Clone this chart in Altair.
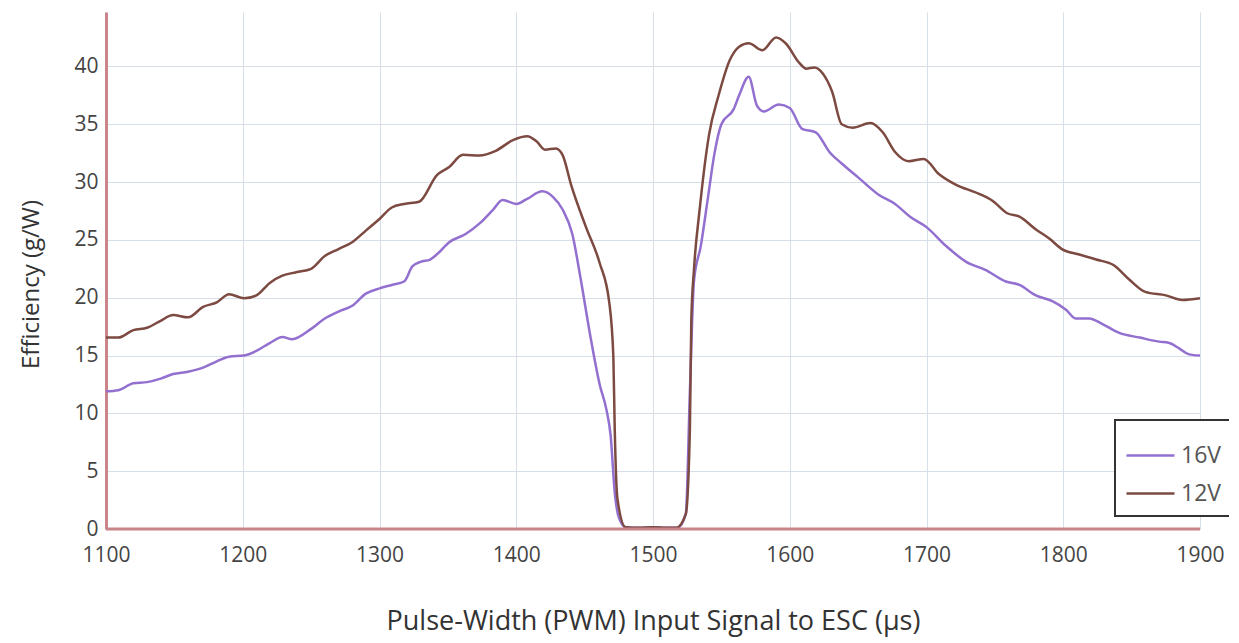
import altair as alt
import pandas as pd

pwm_16v = [1100, 1109, 1120, 1130, 1140, 1149, 1160, 1171, 1181, 1190, 1201, 1210, 1220, 1229, 1236, 1250,
           1260, 1270, 1280, 1290, 1300, 1309, 1318, 1324, 1330, 1337, 1342, 1351, 1363, 1373, 1383, 1390,
           1400, 1408, 1419, 1427, 1434, 1441, 1447, 1454, 1461, 1466, 1469, 1472, 1475, 1480, 1490, 1500,
           1510, 1518, 1524, 1527, 1530, 1535, 1540, 1545, 1550, 1559, 1563, 1570, 1576, 1581, 1592, 1600,
           1609, 1619, 1629, 1638, 1650, 1665, 1677, 1688, 1700, 1714, 1729, 1743, 1758, 1768, 1780, 1792,
           1802, 1809, 1819, 1829, 1841, 1856, 1870, 1877, 1885, 1892, 1900]
eff_16v = [11.9, 12.0, 12.6, 12.7, 13.0, 13.4, 13.6, 13.95, 14.5, 14.9, 15.0, 15.4, 16.1, 16.6, 16.4, 17.3,
           18.2, 18.8, 19.3, 20.35, 20.8, 21.1, 21.4, 22.7, 23.1, 23.3, 23.75, 24.8, 25.5, 26.4, 27.6, 28.45,
           28.1, 28.55, 29.2, 28.7, 27.6, 25.5, 21.7, 16.8, 12.5, 10.3, 8.1, 3.2, 1.0, 0.15, 0.1, 0.15,
           0.1, 0.1, 1.3, 12.0, 21.5, 24.5, 28.5, 32.5, 35.0, 36.3, 37.5, 39.1, 36.6, 36.1, 36.7, 36.4,
           34.6, 34.3, 32.6, 31.6, 30.4, 28.9, 28.1, 27.0, 26.1, 24.5, 23.1, 22.4, 21.4, 21.1, 20.2, 19.7,
           18.96, 18.2, 18.2, 17.7, 16.95, 16.55, 16.2, 16.1, 15.6, 15.1, 15.0]

pwm_12v = [1100, 1109, 1120, 1130, 1140, 1149, 1160, 1171, 1181, 1190, 1201, 1210, 1220, 1229, 1239, 1250,
           1260, 1270, 1280, 1290, 1300, 1309, 1318, 1329, 1342, 1351, 1361, 1373, 1385, 1398, 1408, 1415,
           1421, 1429, 1434, 1440, 1451, 1461, 1468, 1471, 1472, 1474, 1480, 1490, 1500, 1510, 1517, 1524,
           1527, 1528, 1530, 1534, 1541, 1548, 1556, 1563, 1570, 1580, 1590, 1597, 1607, 1612, 1618, 1624,
           1631, 1638, 1646, 1659, 1668, 1677, 1687, 1698, 1709, 1721, 1738, 1748, 1759, 1768, 1780, 1790,
           1799, 1811, 1824, 1837, 1848, 1860, 1875, 1887, 1900]
eff_12v = [16.55, 16.55, 17.2, 17.4, 18.0, 18.5, 18.3, 19.2, 19.6, 20.3, 19.95, 20.2, 21.3, 21.9, 22.2, 22.5,
           23.6, 24.2, 24.8, 25.8, 26.8, 27.8, 28.1, 28.3, 30.6, 31.3, 32.35, 32.3, 32.7, 33.65, 33.96, 33.5,
           32.8, 32.9, 32.3, 29.8, 26.1, 23.0, 19.6, 14.9, 8.75, 2.6, 0.15, 0.1, 0.15, 0.1, 0.1, 1.3,
           8.75, 18.0, 22.5, 27.5, 34.1, 37.5, 40.5, 41.7, 42.0, 41.4, 42.5, 42.0, 40.3, 39.8, 39.9, 39.4,
           37.8, 35.0, 34.7, 35.1, 34.3, 32.6, 31.8, 32.0, 30.7, 29.8, 29.0, 28.4, 27.3, 27.0, 25.9, 25.1,
           24.2, 23.75, 23.3, 22.8, 21.6, 20.5, 20.2, 19.8, 19.95]

series_names = ["16V", "12V"]
series_colors = ["#9370d0", "#7d4a42"]

df = pd.concat([
    pd.DataFrame({"pwm": pwm_16v, "eff": eff_16v, "series": "16V"}),
    pd.DataFrame({"pwm": pwm_12v, "eff": eff_12v, "series": "12V"}),
])

FONT = "Open Sans"

chart = alt.Chart(df).mark_line(interpolate="monotone", strokeWidth=2.5).encode(
    x=alt.X("pwm:Q",
            scale=alt.Scale(domain=[1100, 1900], nice=False, zero=False),
            axis=alt.Axis(title="Pulse-Width (PWM) Input Signal to ESC (µs)",
                          values=list(range(1100, 1901, 100)), format="d",
                          ticks=False, labelPadding=15, titlePadding=43,
                          labelFlush=False, labelOverlap=False,
                          domain=False, grid=True, titleFontSize=27)),
    y=alt.Y("eff:Q",
            scale=alt.Scale(domain=[0, 44.7], nice=False),
            axis=alt.Axis(title="Efficiency (g/W)", values=list(range(0, 41, 5)),
                          ticks=False, labelPadding=8, titlePadding=30, titleY=272,
                          labelFlush=False,
                          domainColor="#c9858a", domainWidth=3, grid=True, titleFontSize=24)),
    color=alt.Color("series:N",
                    scale=alt.Scale(domain=series_names, range=series_colors),
                    legend=alt.Legend(title=None, orient="none", legendX=1009, legendY=408,
                                      symbolType="stroke", symbolSize=2304, symbolStrokeWidth=2.5,
                                      labelFontSize=23, labelColor="#555555", labelFont=FONT,
                                      strokeColor="#333333", fillColor="white", padding=10,
                                      rowPadding=0, labelOffset=5)),
)

zero_line = alt.Chart(pd.DataFrame({"y": [0]})).mark_rule(color="#c9858a", strokeWidth=3).encode(
    y="y:Q"
)

final = (chart + zero_line).properties(
    width=1094, height=517,
    autosize=alt.AutoSizeParams(type="none"),
    padding={"left": 98, "top": 4, "right": 29, "bottom": 112},
).configure_view(stroke=None).configure_axis(
    gridColor="#d6dee8", gridWidth=1,
    labelFont=FONT, labelFontSize=21, labelColor="#444444",
    titleFont=FONT, titleFontWeight="normal", titleColor="#333333",
).configure_legend(strokeWidth=2)

final.save("out.html", embed_options={"renderer": "svg", "actions": False})
